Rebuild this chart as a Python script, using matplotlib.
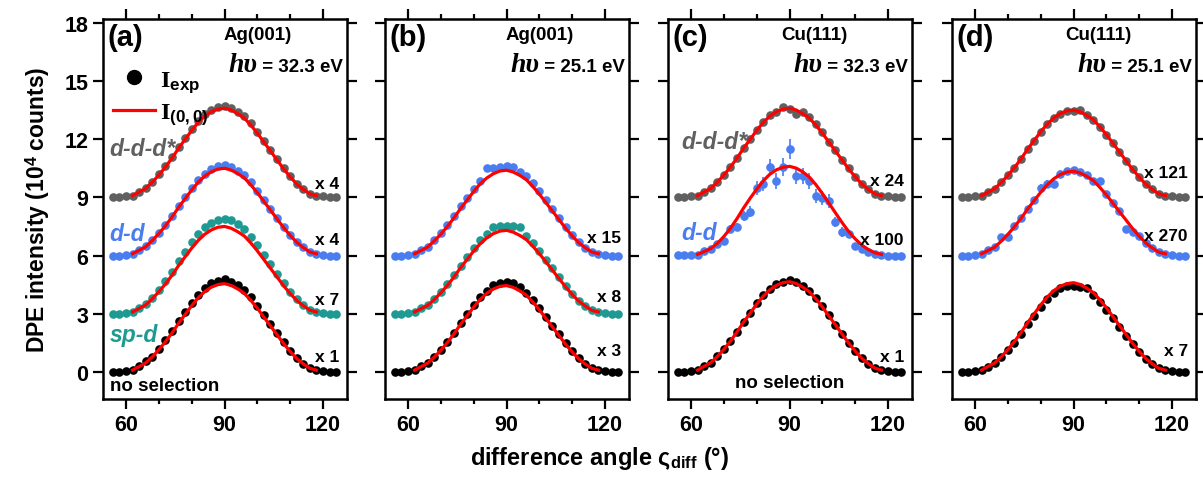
import matplotlib
matplotlib.use("Agg")
import matplotlib.pyplot as plt
from matplotlib.lines import Line2D
from matplotlib.offsetbox import TextArea, HPacker, AnchoredOffsetbox

plt.rcParams['font.family'] = ['Liberation Sans', 'DejaVu Sans']
plt.rcParams['font.weight'] = 'bold'
plt.rcParams['mathtext.fontset'] = 'custom'
plt.rcParams['mathtext.rm'] = 'Liberation Serif:bold'
plt.rcParams['mathtext.sf'] = 'Liberation Sans:bold'
plt.rcParams['mathtext.it'] = 'Liberation Serif:bold:italic'
plt.rcParams['mathtext.bf'] = 'Liberation Sans:bold'

# ---------------- data ----------------
angle = list(range(56, 125, 2))  # difference angle (deg)

# panel (a) Ag(001), 32.3 eV
a_none = [0.00,0.00,0.05,0.10,0.28,0.55,0.75,1.19,1.62,2.09,2.61,3.09,3.56,3.99,4.32,4.56,4.70,4.78,4.66,4.47,4.23,3.85,3.42,2.95,2.47,2.00,1.52,1.09,0.71,0.43,0.19,0.10,0.05,0.00,0.00]
a_spd = [3.00,3.00,3.05,3.10,3.29,3.49,3.83,4.23,4.67,5.16,5.70,6.19,6.68,7.12,7.46,7.70,7.85,7.90,7.85,7.61,7.36,6.97,6.53,6.04,5.55,5.06,4.57,4.13,3.74,3.44,3.20,3.10,3.05,3.00,3.00]
a_dd = [6.00,6.00,6.05,6.09,6.28,6.47,6.79,7.16,7.58,8.05,8.56,9.02,9.49,9.91,10.23,10.46,10.60,10.65,10.56,10.37,10.14,9.77,9.35,8.88,8.42,7.95,7.49,7.07,6.70,6.42,6.19,6.09,6.05,6.00,6.00]
a_ddd = [9.00,9.00,9.05,9.09,9.28,9.47,9.80,10.18,10.60,11.07,11.59,12.06,12.53,12.95,13.28,13.51,13.65,13.70,13.61,13.42,13.18,12.81,12.38,11.91,11.44,10.97,10.50,10.08,9.71,9.42,9.19,9.09,9.05,9.00,9.00]
fa_none = [0.00,0.00,0.05,0.09,0.27,0.46,0.77,1.14,1.55,2.00,2.50,2.96,3.41,3.82,4.14,4.37,4.50,4.55,4.46,4.28,4.05,3.69,3.28,2.82,2.37,1.91,1.46,1.05,0.68,0.41,0.18,0.09,0.05,0.00,0.00]
fa_spd = [3.00,3.00,3.05,3.09,3.27,3.45,3.77,4.13,4.53,4.98,5.48,5.93,6.38,6.78,7.10,7.32,7.46,7.50,7.41,7.23,7.01,6.65,6.24,5.79,5.34,4.89,4.44,4.04,3.68,3.41,3.18,3.09,3.05,3.00,3.00]
fa_dd = [6.00,6.00,6.05,6.09,6.27,6.45,6.77,7.13,7.53,7.98,8.48,8.93,9.38,9.78,10.10,10.32,10.46,10.50,10.41,10.23,10.01,9.65,9.24,8.79,8.34,7.89,7.44,7.04,6.68,6.41,6.18,6.09,6.05,6.00,6.00]
fa_ddd = [9.00,9.00,9.05,9.09,9.28,9.46,9.78,10.15,10.56,11.02,11.53,11.99,12.45,12.86,13.19,13.42,13.55,13.60,13.51,13.32,13.09,12.73,12.31,11.85,11.39,10.93,10.47,10.06,9.69,9.41,9.18,9.09,9.05,9.00,9.00]

# panel (b) Ag(001), 25.1 eV
b_none = [0.00,0.00,0.05,0.09,0.28,0.46,0.78,1.15,1.56,2.02,2.53,2.99,3.45,3.86,4.19,4.50,4.60,4.62,4.60,4.38,4.09,3.73,3.31,2.85,2.39,1.93,1.47,1.06,0.69,0.41,0.18,0.09,0.05,0.00,0.00]
b_spd = [3.00,3.00,3.05,3.09,3.27,3.45,3.77,4.13,4.53,4.98,5.48,5.93,6.38,6.78,7.10,7.45,7.50,7.50,7.50,7.45,7.01,6.65,6.24,5.79,5.34,4.89,4.44,4.04,3.68,3.41,3.18,3.09,3.05,3.00,3.00]
b_dd = [6.00,6.00,6.05,6.09,6.28,6.46,6.78,7.15,7.56,8.02,8.53,8.99,9.45,9.86,10.50,10.52,10.55,10.60,10.58,10.32,10.09,9.73,9.31,8.85,8.39,7.93,7.47,7.06,6.69,6.41,6.18,6.09,6.05,6.00,6.00]
fb_none = [0.00,0.00,0.04,0.09,0.27,0.45,0.76,1.11,1.51,1.96,2.45,2.89,3.34,3.74,4.05,4.27,4.41,4.45,4.36,4.18,3.96,3.60,3.20,2.76,2.31,1.87,1.42,1.02,0.67,0.40,0.18,0.09,0.04,0.00,0.00]
fb_spd = [3.00,3.00,3.04,3.09,3.26,3.43,3.73,4.08,4.46,4.89,5.37,5.80,6.23,6.61,6.91,7.13,7.26,7.30,7.21,7.04,6.83,6.48,6.10,5.67,5.24,4.81,4.38,3.99,3.65,3.39,3.17,3.09,3.04,3.00,3.00]
fb_dd = [6.00,6.00,6.04,6.09,6.26,6.44,6.75,7.10,7.50,7.94,8.42,8.86,9.30,9.70,10.00,10.22,10.36,10.40,10.31,10.14,9.92,9.56,9.17,8.73,8.29,7.85,7.41,7.01,6.66,6.40,6.18,6.09,6.04,6.00,6.00]

# panel (c) Cu(111), 32.3 eV
c_none = [0.00,0.00,0.05,0.09,0.28,0.47,0.80,1.18,1.60,2.07,2.59,3.06,3.53,3.95,4.28,4.51,4.65,4.72,4.61,4.42,4.18,3.81,3.38,2.91,2.44,1.97,1.50,1.08,0.71,0.42,0.19,0.09,0.05,0.00,0.00]
c_dd = [6.05,6.05,6.05,6.05,6.24,6.34,6.60,6.75,7.37,7.47,8.04,8.25,9.48,9.69,10.57,9.85,10.57,11.50,10.10,10.10,9.85,9.07,8.97,8.81,7.73,7.22,7.11,6.50,6.35,6.20,6.10,6.05,6.00,6.00,6.00]
c_dd_err = [0.03,0.03,0.03,0.03,0.08,0.10,0.12,0.15,0.18,0.20,0.25,0.28,0.35,0.38,0.42,0.40,0.45,0.50,0.42,0.42,0.40,0.38,0.35,0.35,0.28,0.25,0.22,0.15,0.12,0.08,0.05,0.03,0.03,0.03,0.03]
c_ddd = [9.00,9.00,9.05,9.09,9.28,9.47,9.79,10.16,10.58,11.05,11.56,12.02,12.49,12.91,13.23,13.40,13.66,13.55,13.30,13.40,13.14,12.77,12.35,11.88,11.42,10.95,10.49,10.07,9.70,9.42,9.19,9.09,9.05,9.00,9.00]
fc_none = [0.00,0.00,0.05,0.09,0.28,0.47,0.79,1.16,1.58,2.05,2.56,3.02,3.49,3.91,4.23,4.46,4.60,4.65,4.56,4.37,4.14,3.77,3.35,2.88,2.42,1.95,1.49,1.07,0.70,0.42,0.19,0.09,0.05,0.00,0.00]
fc_dd = [6.00,6.00,6.03,6.06,6.20,6.36,6.62,6.98,7.40,7.90,8.45,8.95,9.42,9.85,10.19,10.42,10.55,10.60,10.51,10.32,10.05,9.66,9.20,8.70,8.20,7.70,7.24,6.86,6.54,6.31,6.14,6.06,6.03,6.00,6.00]
fc_ddd = [9.00,9.00,9.05,9.09,9.28,9.46,9.78,10.15,10.56,11.02,11.53,11.99,12.45,12.86,13.19,13.42,13.55,13.60,13.51,13.32,13.09,12.73,12.31,11.85,11.39,10.93,10.47,10.06,9.69,9.41,9.18,9.09,9.05,9.00,9.00]

# panel (d) Cu(111), 25.1 eV
d_none = [0.00,0.00,0.04,0.09,0.27,0.45,0.76,1.11,1.51,1.96,2.45,2.89,3.34,3.74,4.05,4.35,4.45,4.42,4.40,4.30,3.96,3.60,3.20,2.76,2.31,1.87,1.42,1.02,0.67,0.40,0.18,0.09,0.04,0.00,0.00]
d_dd = [6.00,6.00,6.04,6.09,6.26,6.44,6.95,6.96,7.50,7.94,8.42,8.86,9.50,9.70,9.70,10.22,10.36,10.40,10.31,10.14,9.85,9.85,9.17,8.73,8.29,7.37,7.22,7.00,6.66,6.40,6.18,6.09,6.04,6.00,6.00]
d_dd_err = [0.03,0.03,0.03,0.03,0.06,0.08,0.10,0.12,0.14,0.15,0.16,0.17,0.18,0.18,0.18,0.18,0.17,0.18,0.17,0.17,0.17,0.16,0.15,0.14,0.13,0.12,0.10,0.08,0.06,0.05,0.04,0.03,0.03,0.03,0.03]
d_ddd = [9.00,9.00,9.05,9.09,9.27,9.45,9.77,10.13,10.53,10.98,11.48,11.93,12.38,12.78,13.10,13.32,13.46,13.45,13.50,13.23,13.01,12.65,12.24,11.79,11.34,10.89,10.44,10.04,9.68,9.41,9.18,9.09,9.05,9.00,9.00]
fd_none = [0.00,0.00,0.05,0.09,0.28,0.46,0.78,1.15,1.56,2.02,2.53,2.99,3.45,3.86,4.19,4.42,4.55,4.60,4.51,4.32,4.09,3.73,3.31,2.85,2.39,1.93,1.47,1.06,0.69,0.41,0.18,0.09,0.05,0.00,0.00]
fd_dd = [6.00,6.00,6.04,6.09,6.26,6.43,6.74,7.09,7.48,7.91,8.39,8.83,9.26,9.65,9.96,10.18,10.31,10.35,10.26,10.09,9.87,9.52,9.13,8.70,8.26,7.83,7.39,7.00,6.65,6.39,6.17,6.09,6.04,6.00,6.00]
fd_ddd = [9.00,9.00,9.05,9.09,9.27,9.45,9.77,10.13,10.53,10.98,11.48,11.93,12.38,12.78,13.10,13.32,13.46,13.50,13.41,13.23,13.01,12.65,12.24,11.79,11.34,10.89,10.44,10.04,9.68,9.41,9.18,9.09,9.05,9.00,9.00]

BLACK = '#000000'
TEAL = '#1f9a92'
BLUE = '#4a7df0'
GRAY = '#606060'
RED = '#ff0000'

panels = [
    dict(tag='(a)', surf='Ag(001)', hv='32.3',
         series=[(a_none, fa_none, 0.10, BLACK), (a_spd, fa_spd, 0.15, TEAL),
                 (a_dd, fa_dd, 0.15, BLUE), (a_ddd, fa_ddd, 0.12, GRAY)],
         mult=[('x 1', 0.77), ('x 7', 3.75), ('x 4', 6.85), ('x 4', 9.7)]),
    dict(tag='(b)', surf='Ag(001)', hv='25.1',
         series=[(b_none, fb_none, 0.05, BLACK), (b_spd, fb_spd, 0.05, TEAL),
                 (b_dd, fb_dd, 0.05, BLUE)],
         mult=[('x 3', 1.1), ('x 8', 3.9), ('x 15', 6.95)]),
    dict(tag='(c)', surf='Cu(111)', hv='32.3',
         series=[(c_none, fc_none, 0.03, BLACK), (c_dd, fc_dd, c_dd_err, BLUE),
                 (c_ddd, fc_ddd, 0.10, GRAY)],
         mult=[('x 1', 0.77), ('x 100', 6.85), ('x 24', 9.85)]),
    dict(tag='(d)', surf='Cu(111)', hv='25.1',
         series=[(d_none, fd_none, 0.10, BLACK), (d_dd, fd_dd, d_dd_err, BLUE),
                 (d_ddd, fd_ddd, 0.12, GRAY)],
         mult=[('x 7', 1.1), ('x 270', 7.05), ('x 121', 10.3)]),
]

fig = plt.figure(figsize=(12.03, 4.81), dpi=100)
lefts = [103, 385, 668, 952]
W, H = 1203.0, 481.0
axes = []
for i, p in enumerate(panels):
    ax = fig.add_axes([lefts[i] / W, 1 - 400 / H, 244 / W, 380 / H])
    axes.append(ax)
    for ys, fit, err, col in p['series']:
        ax.errorbar(angle, ys, yerr=err, fmt='o', color=col, ms=6.2, mew=0,
                    elinewidth=1.2, capsize=2.5, capthick=1.2, zorder=2)
        ax.plot(angle[3:32], fit[3:32], color=RED, lw=2.3, zorder=3)
    ax.set_xlim(53, 127.3)
    ax.set_ylim(-1.4, 18.2)
    ax.set_xticks([60, 90, 120])
    ax.set_xticks([70, 80, 100, 110], minor=True)
    ax.set_yticks([0, 3, 6, 9, 12, 15, 18])
    ax.tick_params(which='both', direction='out', top=True, right=True, width=1.6,
                   labelsize=15.5)
    ax.tick_params(which='major', length=7)
    ax.tick_params(which='minor', length=3.5)
    for s in ax.spines.values():
        s.set_linewidth(1.8)
    if i > 0:
        ax.set_yticklabels([])
    for lab in ax.get_xticklabels() + ax.get_yticklabels():
        lab.set_fontweight('bold')
    ax.text(0.02, 0.99, p['tag'], transform=ax.transAxes, fontsize=21,
            fontweight='bold', va='top', ha='left')
    ax.text(0.635 if i < 2 else 0.60, 0.958, p['surf'], transform=ax.transAxes,
            fontsize=13.5, fontweight='bold', va='center', ha='center')
    box = HPacker(children=[
        TextArea('hυ', textprops=dict(family='Liberation Serif', style='italic',
                                      weight='bold', size=20)),
        TextArea(' = %s eV' % p['hv'], textprops=dict(weight='bold', size=13.5)),
    ], align='baseline', pad=0, sep=0)
    ab = AnchoredOffsetbox(loc='center right', child=box, pad=0, borderpad=0,
                           frameon=False, bbox_to_anchor=(0.985, 0.88),
                           bbox_transform=ax.transAxes)
    ax.add_artist(ab)
    for txt, yv in p['mult']:
        ax.text(124.8, yv, txt, fontsize=12.5, fontweight='bold', ha='right', va='center')

# series labels
axa, axb, axc, axd = axes
lab_kw = dict(fontsize=16.5, fontweight='bold', style='italic', ha='left', va='center')
axa.text(55, 11.5, 'd-d-d*', color=GRAY, **lab_kw)
axa.text(55, 7.15, 'd-d', color=BLUE, **lab_kw)
axa.text(55, 1.95, 'sp-d', color=TEAL, **lab_kw)
axa.text(55, -0.7, 'no selection', fontsize=13.5, fontweight='bold', ha='left', va='center')
axc.text(57, 11.9, 'd-d-d*', color=GRAY, **lab_kw)
axc.text(57, 7.2, 'd-d', color=BLUE, **lab_kw)
axc.text(90, -0.55, 'no selection', fontsize=13.5, fontweight='bold', ha='center', va='center')

handles = [Line2D([], [], ls='none', marker='o', color='black', ms=10),
           Line2D([], [], color=RED, lw=2.3)]
axa.legend(handles, [r'$\mathrm{I}_{\mathsf{exp}}$', r'$\mathrm{I}_{\mathsf{(0,0)}}$'],
           loc='upper left', bbox_to_anchor=(-0.02, 0.91), frameon=False,
           fontsize=17.5, handlelength=1.75, handletextpad=0.2, labelspacing=0.25,
           borderaxespad=0.2)

axa.set_ylabel(r'DPE intensity (10$^{\mathsf{4}}$ counts)', fontsize=16.5,
               fontweight='bold', labelpad=9)
fig.text(600 / W, 1 - 458 / H, r'difference angle ς$_{\mathsf{diff}}$ (°)',
         fontsize=17, fontweight='bold', ha='center', va='center')

fig.savefig('out.png', dpi=100)
